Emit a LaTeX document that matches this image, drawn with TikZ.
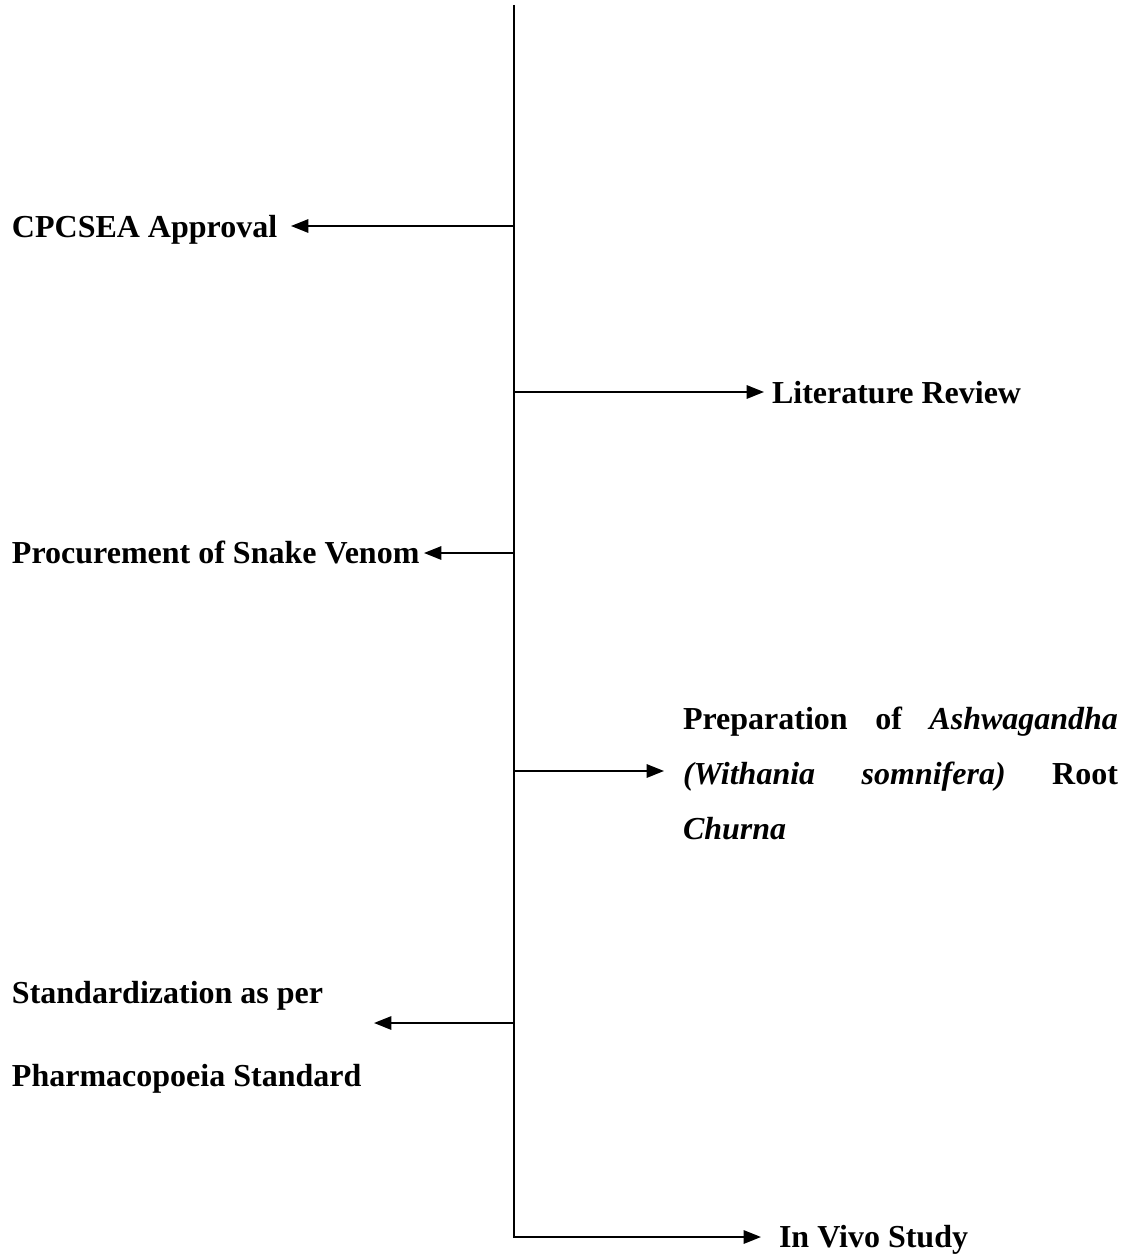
\documentclass[tikz,border=0pt]{standalone}
\usepackage{fontspec}
\setmainfont{Liberation Serif}
\usetikzlibrary{arrows.meta}
\begin{document}
\begin{tikzpicture}[x=0.75pt,y=-0.75pt,
  conn/.style={line width=1.5pt,line join=miter},
  arr/.style={conn,-{Triangle[length=13pt,width=10pt]}},
  lbl/.style={anchor=base west,inner sep=0pt,outer sep=0pt,font=\fontsize{24pt}{28pt}\selectfont\bfseries}]
\useasboundingbox (0,0) rectangle (1131,1256);
% trunk
\coordinate (top) at (514,5);
\coordinate (bot) at (514,1237);
\coordinate (t1) at (514,226);
\coordinate (t2) at (514,392);
\coordinate (t3) at (514,553);
\coordinate (t4) at (514,771);
\coordinate (t5) at (514,1023);
% arrow tips
\coordinate (e1) at (291,226);
\coordinate (e2) at (764,392);
\coordinate (e3) at (424,553);
\coordinate (e4) at (664,771);
\coordinate (e5) at (374,1023);
\coordinate (e6) at (761,1237);
% labels
\node[lbl] (cpcsea) at (12,237) {CPCSEA Approval};
\node[lbl] (lit) at (772,403) {Literature Review};
\node[lbl] (proc) at (12,563) {Procurement of Snake Venom};
\node[lbl] (prep) at (683,729) {\vtop{\baselineskip=41.25pt
  \hbox to 326.25pt{Preparation\hfill of\hfill\textit{Ashwagandha}}
  \hbox to 326.25pt{\textit{(Withania}\hfill\textit{somnifera)}\hfill Root}
  \hbox{\textit{Churna}}}};
\node[lbl] (std) at (12,1003) {\vtop{\baselineskip=62.25pt
  \hbox{Standardization as per}
  \hbox{Pharmacopoeia Standard}}};
\node[lbl] (vivo) at (779,1247) {In Vivo Study};
% connectors
\draw[arr] (top) -- (bot) -- (e6);
\draw[arr] (t1) -- (e1);
\draw[arr] (t2) -- (e2);
\draw[arr] (t3) -- (e3);
\draw[arr] (t4) -- (e4);
\draw[arr] (t5) -- (e5);
\end{tikzpicture}
\end{document}
